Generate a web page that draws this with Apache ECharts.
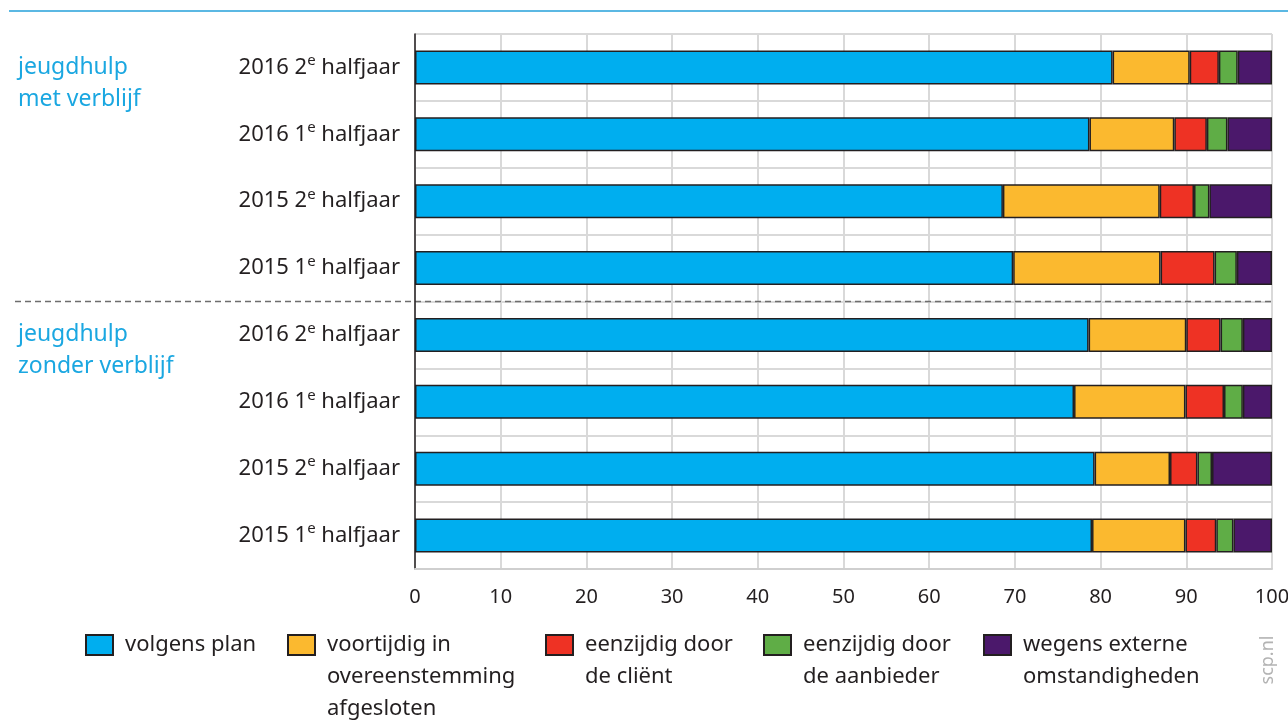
<!DOCTYPE html>
<html>
<head>
<meta charset="utf-8">
<script src="https://cdn.jsdelivr.net/npm/echarts@6/dist/echarts.min.js"></script>
<style>
  html, body { margin: 0; padding: 0; background: #fff; }
  #chart { width: 1288px; height: 720px; }
</style>
</head>
<body>
<div id="chart"></div>
<script>
// categories, top to bottom
const categories = [
  '2016 2e halfjaar', '2016 1e halfjaar', '2015 2e halfjaar', '2015 1e halfjaar',
  '2016 2e halfjaar', '2016 1e halfjaar', '2015 2e halfjaar', '2015 1e halfjaar'
]
const groups = ['jeugdhulp\nmet verblijf', 'jeugdhulp\nzonder verblijf']
const groupStart = [0, 4]

const seriesNames = [
  'volgens plan',
  'voortijdig in\novereenstemming\nafgesloten',
  'eenzijdig door\nde cliënt',
  'eenzijdig door\nde aanbieder',
  'wegens externe\nomstandigheden'
]
const volgensPlan = [81.4, 78.7, 68.6, 69.8, 78.6, 76.9, 79.3, 79.0]
const voortijdig = [9.0, 9.9, 18.3, 17.2, 11.4, 13.0, 8.8, 10.9]
const eenzijdigClient = [3.4, 3.8, 4.0, 6.3, 4.0, 4.5, 3.2, 3.6]
const eenzijdigAanbieder = [2.2, 2.4, 1.8, 2.6, 2.6, 2.2, 1.7, 2.0]
const externe = [4.0, 5.2, 7.3, 4.1, 3.4, 3.4, 7.0, 4.5]
const seriesValues = [volgensPlan, voortijdig, eenzijdigClient, eenzijdigAanbieder, externe]
const xTicks = [0, 100, 10]

const colors = ['#00aeef', '#fbb92f', '#ee3224', '#5fad46', '#4b186b']
const legendLeft = [80, 282, 540, 758, 978]

const FONT = 'Noto Sans'
const chart = echarts.init(document.getElementById('chart'))

// one legend per item so each sits where the original puts it;
// the icon lines up with the first line of the text
const legends = seriesNames.map((name, i) => {
  const n = name.split('\n').length
  return {
    left: legendLeft[i],
    top: 635 - 5 - ((2 * n - 1) * 16 - 10),
    icon: 'rect',
    itemWidth: 27,
    itemHeight: 20,
    selectedMode: false,
    data: [name],
    formatter: function (nm) {
      const lines = nm.split('\n').map(l => '{t|' + l + '}')
      return '\n'.repeat(lines.length - 1) + lines.join('\n')
    },
    textStyle: {
      fontFamily: FONT,
      fontSize: 22,
      lineHeight: 32,
      color: '#231f20',
      rich: {
        t: { fontFamily: FONT, fontSize: 22, lineHeight: 32, color: '#231f20', padding: [0, 0, 0, 7] }
      }
    }
  }
})

const option = {
  animation: false,
  backgroundColor: '#fff',
  textStyle: { fontFamily: FONT },
  legend: legends,
  grid: { left: 415, right: 16, top: 34, bottom: 151, containLabel: false, outerBoundsMode: 'none' },
  xAxis: {
    type: 'value',
    min: xTicks[0],
    max: xTicks[1],
    interval: xTicks[2],
    axisLine: { show: true, lineStyle: { color: '#cfcfcf', width: 2 } },
    axisTick: { show: false },
    splitLine: { show: true, lineStyle: { color: '#d9d9d9', width: 2 } },
    axisLabel: { color: '#231f20', fontSize: 20, margin: 18, fontFamily: FONT }
  },
  yAxis: {
    type: 'category',
    inverse: true,
    data: categories,
    axisLine: { show: true, lineStyle: { color: '#231f20', width: 1.5 } },
    axisTick: { show: false },
    splitLine: { show: true, lineStyle: { color: '#d9d9d9', width: 2 } },
    axisLabel: {
      margin: 15,
      formatter: function (value) {
        const m = value.match(/^(.*\d)e( .*)$/)
        return '{a|' + m[1] + '}{s|e}{a|' + m[2] + '}'
      },
      rich: {
        a: { fontFamily: FONT, fontSize: 22, color: '#231f20', lineHeight: 28 },
        s: { fontFamily: FONT, fontSize: 15, color: '#231f20', lineHeight: 28, verticalAlign: 'top' }
      }
    }
  },
  series: seriesNames.map((name, i) => ({
    name: name,
    type: 'bar',
    stack: 'total',
    barWidth: 34,
    data: seriesValues[i],
    itemStyle: { color: colors[i], borderColor: '#231f20', borderWidth: 1.5 }
  }))
}

chart.setOption(option)

// decorations: top rule, group labels, dashed divider, source
const yOf = idx => chart.convertToPixel({ yAxisIndex: 0 }, idx)
const rowGap = yOf(1) - yOf(0)
const graphics = [
  {
    type: 'line',
    shape: { x1: 9, y1: 11, x2: 1288, y2: 11 },
    style: { stroke: '#5bb8e3', lineWidth: 2 }
  },
  {
    type: 'line',
    shape: { x1: 15, y1: yOf(3) + rowGap / 2, x2: 1272, y2: yOf(3) + rowGap / 2 },
    style: { stroke: '#6d6d6d', lineWidth: 1.5, lineDash: [6, 4] }
  },
  {
    type: 'text',
    x: 1268,
    y: 660,
    rotation: Math.PI / 2,
    style: {
      text: 'scp.nl', fill: '#b3b3b3', fontFamily: FONT, fontSize: 18,
      align: 'center', verticalAlign: 'middle'
    }
  }
]
groups.forEach((g, i) => {
  graphics.push({
    type: 'text',
    x: 18,
    y: yOf(groupStart[i]) - 16,
    style: {
      text: g, fill: '#1aa7e1', fontFamily: FONT, fontSize: 23,
      lineHeight: 32, align: 'left', verticalAlign: 'top'
    }
  })
})
chart.setOption({ graphic: graphics })

window.addEventListener('resize', () => chart.resize())
</script>
</body>
</html>
